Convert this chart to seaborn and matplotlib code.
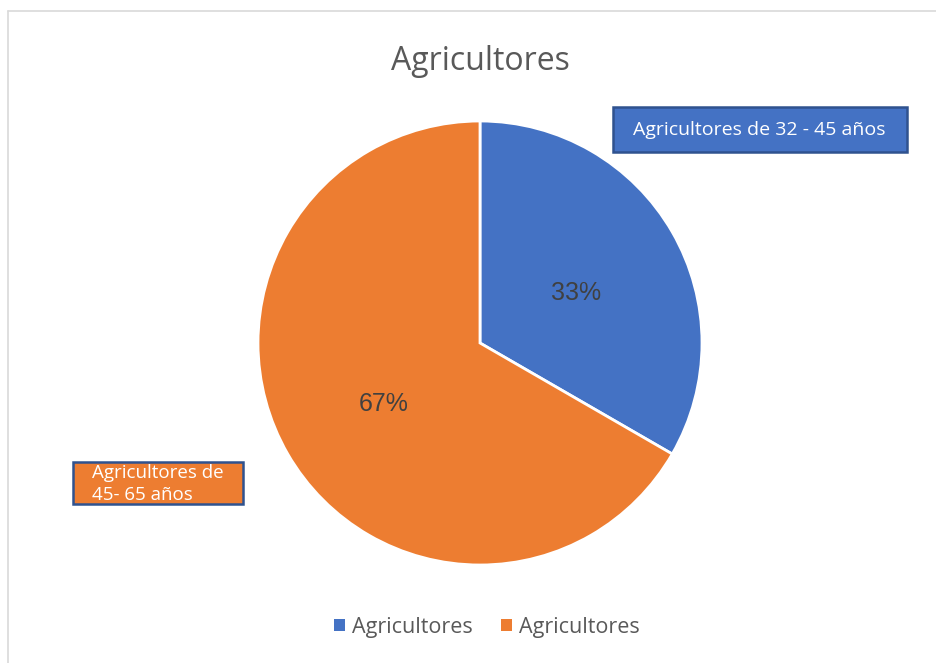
import seaborn as sns
import matplotlib.pyplot as plt
from matplotlib.patches import Rectangle, Patch
from matplotlib.lines import Line2D

labels = ["Agricultores de 32 - 45 años", "Agricultores de\n45- 65 años"]
values = [1, 2]
legend_labels = ["Agricultores", "Agricultores"]
colors = ["#4472C4", "#ED7D31"]

sns.set_theme(style="white")
plt.rcParams['font.family'] = ['Open Sans', 'DejaVu Sans']

W, H = 936, 663
fig = plt.figure(figsize=(W / 100, H / 100), dpi=100)

def fx(px):
    return px / W

def fy(py):
    return 1 - py / H

# chart border (top and left visible)
fig.add_artist(Line2D([fx(8), fx(936)], [fy(11), fy(11)], color="#D9D9D9", lw=1.2))
fig.add_artist(Line2D([fx(8), fx(8)], [fy(11), fy(663)], color="#D9D9D9", lw=1.2))

# pie
cx, cy, r = 480, 343, 222
ax = fig.add_axes([fx(cx - r), fy(cy + r), 2 * r / W, 2 * r / H])
wedges, texts, autotexts = ax.pie(values, colors=colors, startangle=90, counterclock=False,
                                  autopct='%.0f%%', pctdistance=0.5,
                                  wedgeprops=dict(edgecolor="white", linewidth=2),
                                  textprops=dict(color="#404040", fontsize=18,
                                                 family=["Liberation Sans"]))
for t in autotexts:
    x, y = t.get_position()
    t.set_position((x, y - 0.025))
ax.set_xlim(-1, 1)
ax.set_ylim(-1, 1)
ax.set_aspect("equal")
ax.axis("off")

fig.text(fx(480), fy(61), "Agricultores", ha="center", va="center", fontsize=23, color="#595959")

# data label boxes
boxes = [(613, 107, 907, 152), (73, 462, 243, 504)]
for (x0, y0, x1, y1), c in zip(boxes, colors):
    fig.add_artist(Rectangle((fx(x0), fy(y1)), fx(x1) - fx(x0), fy(y0) - fy(y1),
                             facecolor=c, edgecolor="#2F528F", lw=1.8, transform=fig.transFigure))
fig.text(fx(633), fy(130), labels[0], ha="left", va="center", fontsize=14, color="white")
fig.text(fx(92), fy(484), labels[1], ha="left", va="center", fontsize=13.5, color="white",
         linespacing=1.35)

handles = [Patch(facecolor=c, edgecolor="none") for c in colors]
fig.legend(handles, legend_labels, loc="center", bbox_to_anchor=(fx(487), fy(627)), ncol=2,
           frameon=False, handlelength=0.5, handleheight=0.5, handletextpad=0.35,
           columnspacing=1.3, prop=dict(size=15.5), labelcolor="#595959")

fig.savefig("out.png", dpi=100, facecolor="white")
